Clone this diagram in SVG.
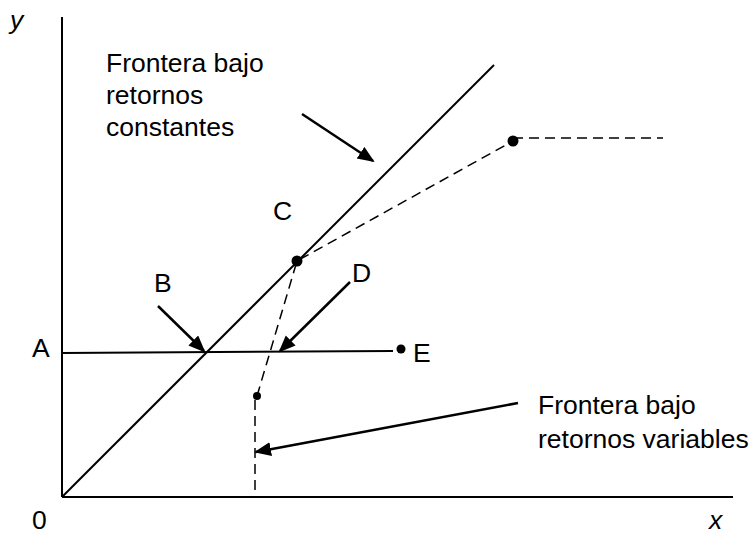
<svg xmlns="http://www.w3.org/2000/svg" width="750" height="535" viewBox="0 0 750 535">
<defs>
<style>
.t{font-family:"Liberation Sans",Arial,sans-serif;font-size:26.5px;fill:#000}
.it{font-style:italic}
.solid{stroke:#000;stroke-width:2;fill:none}
.dash{stroke:#000;stroke-width:1.5;fill:none;stroke-dasharray:10,6}
.arr{stroke:#000;stroke-width:2.5;fill:none;marker-end:url(#ah)}
.dot{fill:#000}
</style>
<marker id="ah" markerUnits="userSpaceOnUse" markerWidth="20" markerHeight="16" refX="15" refY="7" orient="auto">
<path d="M0,0 L17,7 L0,14 z" fill="#000"/>
</marker>
</defs>
<rect width="750" height="535" fill="#fff"/>
<g id="axes">
<line class="solid" x1="62" y1="17" x2="62" y2="497"/>
<line class="solid" x1="62" y1="497" x2="733" y2="497"/>
<text class="t it" x="10" y="29">y</text>
<text class="t it" x="709" y="529">x</text>
<text class="t" x="32" y="529">0</text>
</g>
<g id="frontier-constant">
<line class="solid" x1="62" y1="497" x2="494" y2="65" stroke-width="2.5"/>
</g>
<g id="line-A">
<line class="solid" x1="62" y1="353" x2="393" y2="351"/>
<text class="t" x="32" y="357">A</text>
</g>
<g id="frontier-variable">
<line class="dash" x1="255" y1="400" x2="255" y2="497"/>
<polyline class="dash" points="257,396 297,261 513,141"/>
<line class="dash" x1="513" y1="138" x2="663" y2="138"/>
</g>
<g id="point-C">
<circle class="dot" cx="297" cy="261" r="5.5"/>
<text class="t" x="273" y="220">C</text>
</g>
<g id="point-top">
<circle class="dot" cx="513" cy="141" r="5.5"/>
</g>
<g id="point-low">
<circle class="dot" cx="257" cy="396" r="4"/>
</g>
<g id="point-E">
<circle class="dot" cx="401" cy="349" r="4.5"/>
<text class="t" x="413" y="362">E</text>
</g>
<g id="label-B"><text class="t" x="154" y="292">B</text></g>
<g id="label-D"><text class="t" x="352" y="282">D</text></g>
<g id="label-constant">
<text class="t" x="106" y="72">Frontera bajo</text>
<text class="t" x="106" y="104">retornos</text>
<text class="t" x="106" y="136">constantes</text>
</g>
<g id="label-variable">
<text class="t" x="538" y="414">Frontera bajo</text>
<text class="t" x="538" y="448">retornos variables</text>
</g>
<g id="connectors">
<line class="arr" x1="302" y1="114" x2="373" y2="161"/>
<line class="arr" x1="158" y1="306" x2="204" y2="351"/>
<line class="arr" x1="350" y1="282" x2="280" y2="351"/>
<line class="arr" x1="518" y1="403" x2="256" y2="452"/>
</g>
</svg>
